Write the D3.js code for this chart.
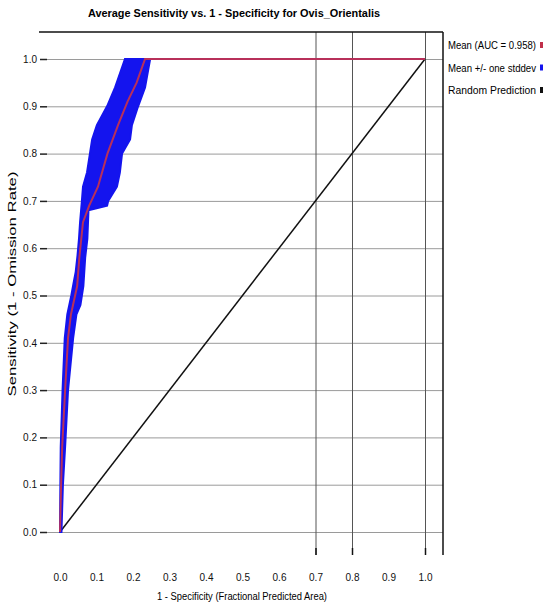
<!DOCTYPE html>
<html>
<head>
<meta charset="utf-8">
<script src="https://cdn.jsdelivr.net/npm/d3@7"></script>
<style>
  body { margin: 0; background: #fff; }
  svg { display: block; font-family: "Liberation Sans", Arial, sans-serif; }
  .tick text { font-size: 10px; fill: #111; }
</style>
</head>
<body>
<svg width="546" height="606"></svg>
<script>
// mean curve: fractional predicted area (1 - specificity) vs sensitivity
const meanFpa  = [0, 0.003, 0.006, 0.014, 0.022, 0.030, 0.047, 0.053, 0.063, 0.080, 0.104, 0.130, 0.159, 0.185, 0.210, 0.233, 1.0];
const meanSens = [0, 0.10, 0.18, 0.30, 0.41, 0.46, 0.52, 0.58, 0.655, 0.69, 0.73, 0.80, 0.86, 0.91, 0.95, 1.0, 1.0];

// mean + one stddev (upper/left edge of the band)
const upperFpa  = [0, 0.001, 0.002, 0.007, 0.013, 0.020, 0.031, 0.038, 0.043, 0.048, 0.052, 0.055, 0.060, 0.063, 0.074, 0.082, 0.088, 0.101, 0.129, 0.151, 0.178];
const upperSens = [0, 0.10, 0.18, 0.30, 0.41, 0.46, 0.50, 0.53, 0.55, 0.585, 0.62, 0.655, 0.70, 0.73, 0.76, 0.80, 0.83, 0.86, 0.90, 0.94, 1.0];

// mean - one stddev (lower/right edge of the band)
const lowerFpa  = [0.004, 0.008, 0.014, 0.022, 0.036, 0.045, 0.056, 0.064, 0.069, 0.075, 0.078, 0.129, 0.132, 0.156, 0.164, 0.170, 0.192, 0.197, 0.214, 0.233, 0.247];
const lowerSens = [0, 0.10, 0.18, 0.30, 0.41, 0.46, 0.48, 0.52, 0.58, 0.62, 0.68, 0.69, 0.70, 0.73, 0.76, 0.80, 0.83, 0.86, 0.90, 0.94, 1.0];

const xTicks = [0, 0.1, 0.2, 0.3, 0.4, 0.5, 0.6, 0.7, 0.8, 0.9, 1.0];
const xGrid = [0.7, 0.8, 1.0];
const yTicks = [0, 0.1, 0.2, 0.3, 0.4, 0.5, 0.6, 0.7, 0.8, 0.9, 1.0];

const legendLabels = ["Mean (AUC = 0.958)", "Mean +/- one stddev", "Random Prediction"];
const legendColors = ["#c0304a", "#1414ee", "#111"];

const svg = d3.select("svg");
const padL = 47, padR = 443, padT = 32, padB = 555;

const x = d3.scaleLinear().domain([0, 1]).range([60, 425]);
const y = d3.scaleLinear().domain([0, 1]).range([532, 59]);

// title
svg.append("text")
  .attr("x", 234).attr("y", 17)
  .attr("text-anchor", "middle")
  .attr("font-size", 11).attr("font-weight", "bold")
  .attr("textLength", 292).attr("lengthAdjust", "spacingAndGlyphs")
  .text("Average Sensitivity vs. 1 - Specificity for Ovis_Orientalis");

// horizontal gridlines
svg.append("g")
  .attr("transform", `translate(${padL},0)`)
  .call(d3.axisRight(y).tickValues(yTicks).tickSize(padR - padL).tickFormat(""))
  .call(g => g.select(".domain").remove())
  .call(g => g.selectAll("line").attr("stroke", "#9a9a9a"));

// y axis ticks + labels
svg.append("g")
  .attr("transform", `translate(${padL},0)`)
  .call(d3.axisLeft(y).tickValues(yTicks).tickSize(7).tickPadding(3).tickFormat(d3.format(".1f")))
  .call(g => g.select(".domain").remove())
  .call(g => g.selectAll("line").attr("stroke", "#222").attr("stroke-width", 1.5));

// vertical gridlines
svg.append("g")
  .attr("transform", `translate(0,${padT})`)
  .call(d3.axisBottom(x).tickValues(xGrid).tickSize(padB - padT).tickFormat(""))
  .call(g => g.select(".domain").remove())
  .call(g => g.selectAll("line").attr("stroke", "#555"));

// x tick marks at bottom
svg.append("g")
  .attr("transform", `translate(0,${padB - 7})`)
  .call(d3.axisBottom(x).tickValues(xGrid).tickSize(7).tickFormat(""))
  .call(g => g.select(".domain").remove())
  .call(g => g.selectAll("line").attr("stroke", "#111").attr("stroke-width", 1.5));

// x labels
svg.append("g")
  .attr("transform", `translate(0,${padB})`)
  .call(d3.axisBottom(x).tickValues(xTicks).tickSize(0).tickPadding(19).tickFormat(d3.format(".1f")))
  .call(g => g.select(".domain").remove());

// frame: top and right
svg.append("line").attr("x1", 39).attr("x2", padR).attr("y1", padT).attr("y2", padT)
  .attr("stroke", "#111").attr("stroke-width", 1.5);
svg.append("line").attr("x1", padR).attr("x2", padR).attr("y1", padT).attr("y2", padB)
  .attr("stroke", "#111").attr("stroke-width", 1.5);

// axis titles
svg.append("text")
  .attr("x", 242).attr("y", 600)
  .attr("text-anchor", "middle").attr("font-size", 10)
  .attr("textLength", 170).attr("lengthAdjust", "spacingAndGlyphs")
  .text("1 - Specificity (Fractional Predicted Area)");

svg.append("text")
  .attr("transform", "translate(16,284) rotate(-90)")
  .attr("text-anchor", "middle").attr("font-size", 10)
  .attr("textLength", 225).attr("lengthAdjust", "spacingAndGlyphs")
  .text("Sensitivity (1 - Omission Rate)");

const line = d3.line().x(d => x(d[0])).y(d => y(d[1]));

// random prediction
svg.append("path")
  .datum([[0, 0], [1, 1]])
  .attr("d", line)
  .attr("stroke", "#111").attr("stroke-width", 1.5).attr("fill", "none");

// stddev band: upper edge, then lower edge back down
const upper = upperFpa.map((f, i) => [f, upperSens[i]]);
const lower = lowerFpa.map((f, i) => [f, lowerSens[i]]).reverse();
svg.append("path")
  .datum(upper.concat(lower))
  .attr("d", d3.line().x(d => x(d[0])).y(d => y(d[1])).curve(d3.curveLinearClosed))
  .attr("fill", "#1414ee")
  .attr("stroke", "#1414ee").attr("stroke-width", 2);

// mean
svg.append("path")
  .datum(meanFpa.map((f, i) => [f, meanSens[i]]))
  .attr("d", line)
  .attr("stroke", "#b8305a").attr("stroke-width", 2).attr("fill", "none");

// legend
const lg = svg.append("g").selectAll("g")
  .data(legendLabels)
  .join("g")
  .attr("transform", (d, i) => `translate(448,${49 + i * 22.5})`);

lg.append("text")
  .attr("font-size", 10)
  .attr("textLength", 88).attr("lengthAdjust", "spacingAndGlyphs")
  .text(d => d);

lg.append("rect")
  .attr("x", 92).attr("y", -7).attr("width", 3).attr("height", 6)
  .attr("fill", (d, i) => legendColors[i]);
</script>
</body>
</html>
